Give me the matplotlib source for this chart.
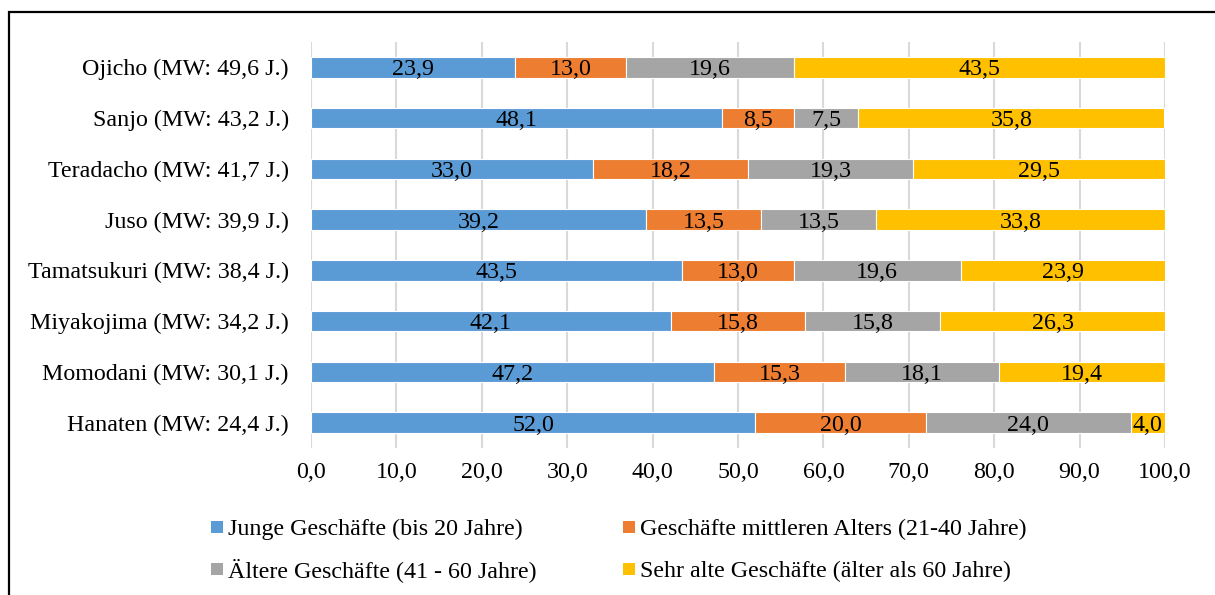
import numpy as np
import matplotlib.pyplot as plt
from matplotlib.patches import Rectangle

plt.rcParams['font.family'] = ['Liberation Serif', 'DejaVu Serif']

districts = ["Ojicho (MW: 49,6 J.)", "Sanjo (MW: 43,2 J.)", "Teradacho (MW: 41,7 J.)",
             "Juso (MW: 39,9 J.)", "Tamatsukuri (MW: 38,4 J.)", "Miyakojima (MW: 34,2 J.)",
             "Momodani (MW: 30,1 J.)", "Hanaten (MW: 24,4 J.)"]
young = [23.9, 48.1, 33.0, 39.2, 43.5, 42.1, 47.2, 52.0]
middle = [13.0, 8.5, 18.2, 13.5, 13.0, 15.8, 15.3, 20.0]
older = [19.6, 7.5, 19.3, 13.5, 19.6, 15.8, 18.1, 24.0]
very_old = [43.5, 35.8, 29.5, 33.8, 23.9, 26.3, 19.4, 4.0]

series_names = ["Junge Geschäfte (bis 20 Jahre)",
                "Geschäfte mittleren Alters (21-40 Jahre)",
                "Ältere Geschäfte (41 - 60 Jahre)",
                "Sehr alte Geschäfte (älter als 60 Jahre)"]
colors = ["#5B9BD5", "#ED7D31", "#A5A5A5", "#FFC000"]

W, H = 1215, 595
fs = 17.3
fig = plt.figure(figsize=(W / 100, H / 100), dpi=100)
ax = fig.add_axes([311 / W, 1 - 448 / H, 854 / W, 406 / H])

y = np.arange(len(districts))
left = np.zeros(len(districts))
for vals, name, col in zip([young, middle, older, very_old], series_names, colors):
    vals = np.array(vals)
    bars = ax.barh(y, vals, left=left, height=0.4, color=col, edgecolor="white",
                   linewidth=0.8, label=name, zorder=2)
    for b, v in zip(bars, vals):
        ax.text(b.get_x() + b.get_width() / 2, b.get_y() + b.get_height() / 2 + 0.05,
                f"{v:.1f}".replace(".", ","), ha="center", va="center",
                fontsize=fs, color="black", zorder=3)
    left += vals

ax.set_xlim(0, 100)
ax.set_ylim(len(districts) - 0.5, -0.5)
ax.set_yticks(y)
ax.set_yticklabels(districts, fontsize=fs)
xt = np.arange(0, 101, 10)
ax.set_xticks(xt)
ax.set_xticklabels([f"{v:.1f}".replace(".", ",") for v in xt], fontsize=fs)
ax.tick_params(axis="both", length=0)
ax.tick_params(axis="y", pad=16)
ax.tick_params(axis="x", pad=10)
ax.grid(axis="x", color="#D9D9D9", linewidth=1.5, zorder=0)
for s in ax.spines.values():
    s.set_visible(False)

# legend laid out by hand: two columns, two rows
col_x = [211, 623]
row_base = [535, 577]
slots = [(0, 0), (1, 0), (0, 1), (1, 1)]
for (c, r), name, col in zip(slots, series_names, colors):
    x0 = col_x[c]
    yb = row_base[r]
    fig.add_artist(Rectangle((x0 / W, 1 - (yb - 2) / H), 12 / W, 12 / H,
                             transform=fig.transFigure, color=col, lw=0))
    fig.text((x0 + 17) / W, 1 - yb / H, name, fontsize=fs, va="baseline", ha="left")

# outer frame of the chart area
fig.add_artist(Rectangle((8.5 / W, -0.1), 1.2, 1.1 - 12.5 / H,
                         transform=fig.transFigure, fill=False,
                         edgecolor="black", linewidth=1.6))

fig.savefig("out.png", dpi=100)
